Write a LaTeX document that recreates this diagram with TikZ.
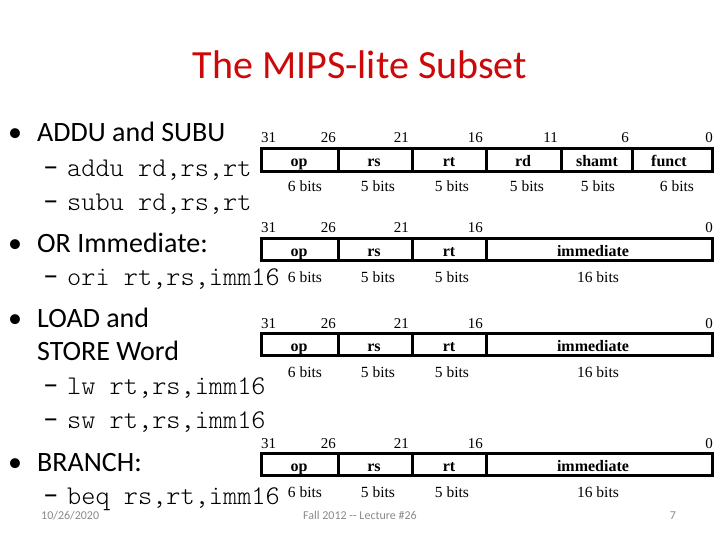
\documentclass[tikz,border=0pt]{standalone}
\usepackage{fontspec}
\setmainfont{Carlito}
\newfontfamily\fieldfont{Liberation Serif}
\newcommand\mycode{\fontseries{l}\ttfamily}
\definecolor{titlered}{RGB}{204,8,8}
\definecolor{footgray}{RGB}{137,137,137}
\tikzset{
  titletext/.style={anchor=base, inner sep=0pt, text=titlered, font=\fontsize{40}{40}\selectfont},
  bullettext/.style={anchor=base west, inner sep=0pt, font=\fontsize{28}{28}\selectfont},
  dashtext/.style={anchor=base west, inner sep=0pt, font=\fontsize{31}{31}\selectfont},
  codetext/.style={anchor=base west, inner sep=0pt, font=\mycode\fontsize{27}{27}\selectfont},
  bitnum/.style={anchor=base east, inner sep=0pt, font=\fieldfont\fontsize{15}{15}\selectfont},
  bitnumL/.style={anchor=base west, inner sep=0pt, font=\fieldfont\fontsize{15}{15}\selectfont},
  fieldname/.style={anchor=base, inner sep=0pt, font=\fieldfont\bfseries\fontsize{16}{16}\selectfont},
  bitsize/.style={anchor=base, inner sep=0pt, font=\fieldfont\fontsize{15.5}{15.5}\selectfont},
  fieldbox/.style={draw=black, line width=3pt},
  footer/.style={anchor=base, inner sep=0pt, text=footgray, font=\fontsize{12}{12}\selectfont},
}
\begin{document}
\begin{tikzpicture}[x=1pt,y=-1pt]
\useasboundingbox (0,0) rectangle (720,540);
% title
\node[titletext] (title) at (360,79) {The MIPS-lite Subset};
% left column
\node[bullettext] (b1) at (8,142) {•};
\node[bullettext] (t1) at (37,142) {ADDU and SUBU};
\node[dashtext] (d1a) at (43,177) {–};
\node[codetext] (c1a) at (67,177) {addu rd,rs,rt};
\node[dashtext] (d1b) at (43,211) {–};
\node[codetext] (c1b) at (67,211) {subu rd,rs,rt};
\node[bullettext] (b2) at (8,252) {•};
\node[bullettext] (t2) at (37,252) {OR Immediate:};
\node[dashtext] (d2a) at (43,285) {–};
\node[codetext] (c2a) at (67,285) {ori rt,rs,imm16};
\node[bullettext] (b3) at (8,327) {•};
\node[bullettext] (t3a) at (37,327) {LOAD and};
\node[bullettext] (t3b) at (37,360) {STORE Word};
\node[dashtext] (d3a) at (43,394) {–};
\node[codetext] (c3a) at (67,394) {lw rt,rs,imm16};
\node[dashtext] (d3b) at (43,428) {–};
\node[codetext] (c3b) at (67,428) {sw rt,rs,imm16};
\node[bullettext] (b4) at (8,471) {•};
\node[bullettext] (t4) at (37,471) {BRANCH:};
\node[dashtext] (d4a) at (43,504) {–};
\node[codetext] (c4a) at (67,504) {beq rs,rt,imm16};
% R-format row
\draw[fieldbox] (261,149) rectangle (712,172);
\foreach \xx in {338,412,486,561,632} \draw[fieldbox] (\xx,149) -- (\xx,172);
\node[bitnumL] (r1n31) at (261,143) {31};
\node[bitnum] (r1n26) at (336,143) {26};
\node[bitnum] (r1n21) at (409,143) {21};
\node[bitnum] (r1n16) at (483,143) {16};
\node[bitnum] (r1n11) at (558,143) {11};
\node[bitnum] (r1n6) at (629,143) {6};
\node[bitnum] (r1n0) at (713,143) {0};
\node[fieldname] (r1op) at (299,167) {op};
\node[fieldname] (r1rs) at (374,167) {rs};
\node[fieldname] (r1rt) at (449,167) {rt};
\node[fieldname] (r1rd) at (523,167) {rd};
\node[fieldname] (r1sh) at (597,167) {shamt};
\node[fieldname] (r1fn) at (669,167) {funct};
\node[bitsize] (r1b1) at (305,192) {6 bits};
\node[bitsize] (r1b2) at (378,192) {5 bits};
\node[bitsize] (r1b3) at (452,192) {5 bits};
\node[bitsize] (r1b4) at (527,192) {5 bits};
\node[bitsize] (r1b5) at (598,192) {5 bits};
\node[bitsize] (r1b6) at (677,192) {6 bits};
% I-format rows
\foreach \top/\nm in {238/a,333/b,453/c} {
  \draw[fieldbox] (261,\top) rectangle (712,\top+22);
  \foreach \xx in {338,412,486} \draw[fieldbox] (\xx,\top) -- (\xx,\top+22);
  \node[bitnumL] (\nm n31) at (261,\top-5) {31};
  \node[bitnum] (\nm n26) at (336,\top-5) {26};
  \node[bitnum] (\nm n21) at (409,\top-5) {21};
  \node[bitnum] (\nm n16) at (483,\top-5) {16};
  \node[bitnum] (\nm n0) at (713,\top-5) {0};
  \node[fieldname] (\nm op) at (299,\top+18) {op};
  \node[fieldname] (\nm rs) at (374,\top+18) {rs};
  \node[fieldname] (\nm rt) at (449,\top+18) {rt};
  \node[fieldname] (\nm im) at (593,\top+18) {immediate};
  \node[bitsize] (\nm b1) at (305,\top+44) {6 bits};
  \node[bitsize] (\nm b2) at (378,\top+44) {5 bits};
  \node[bitsize] (\nm b3) at (452,\top+44) {5 bits};
  \node[bitsize] (\nm b4) at (598,\top+44) {16 bits};
}
% footer
\node[footer, anchor=base west] (date) at (41,519) {10/26/2020};
\node[footer] (lect) at (360,519) {Fall 2012 -{}- Lecture \#26};
\node[footer] (page) at (673,519) {7};
\end{tikzpicture}
\end{document}
